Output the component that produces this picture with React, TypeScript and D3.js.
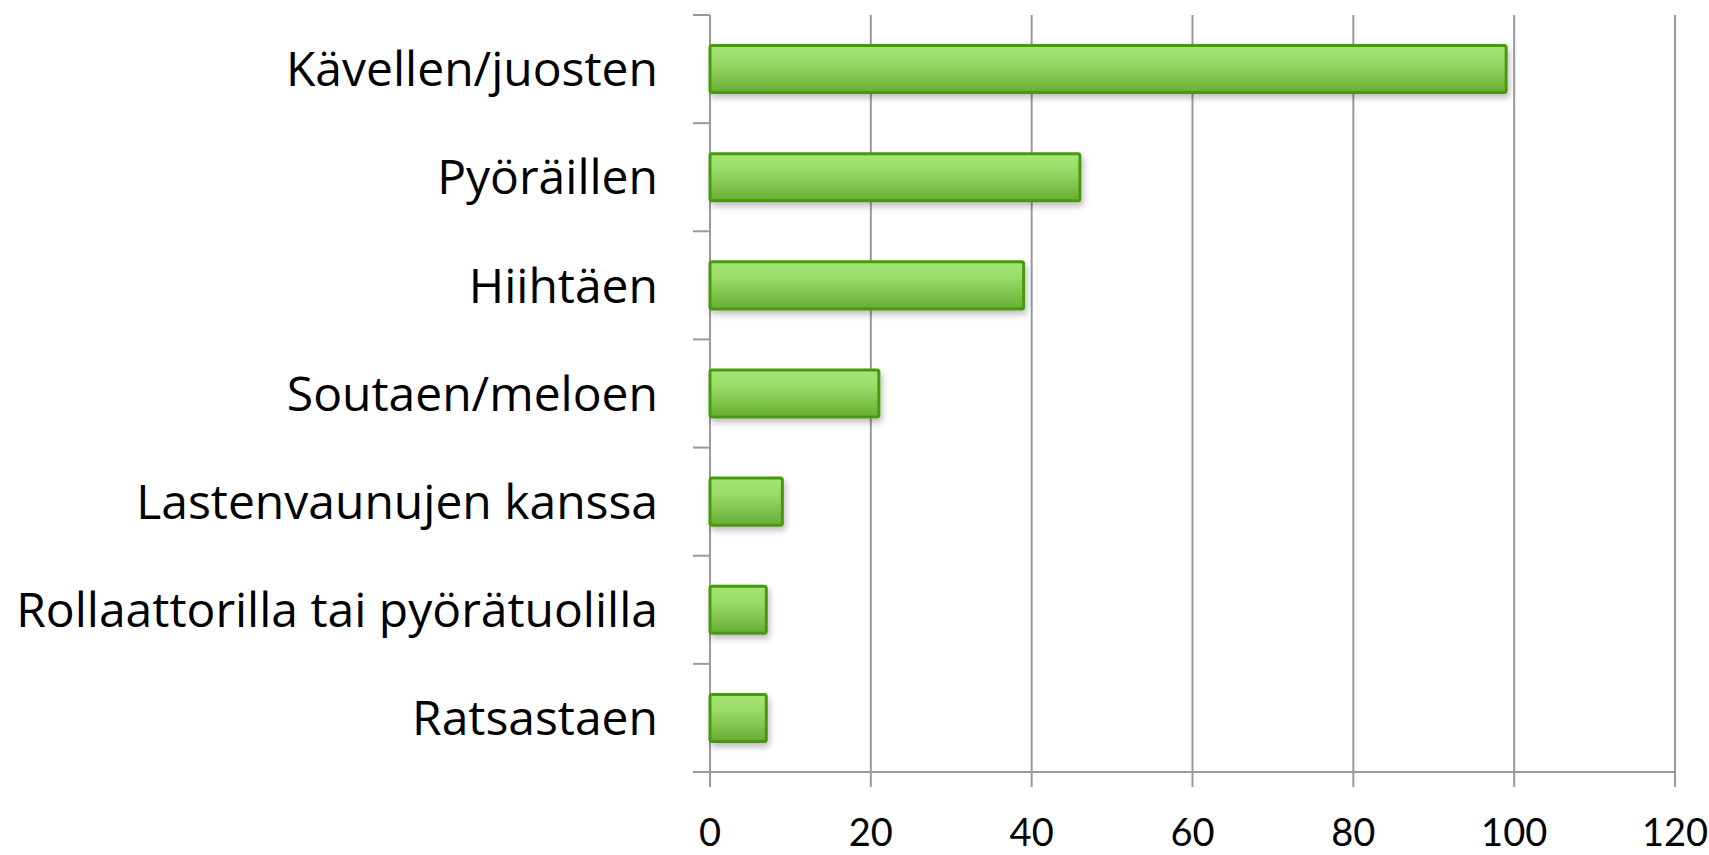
import React, { useEffect, useRef } from 'react';
import * as d3 from 'd3';

const categories = [
  'Kävellen/juosten',
  'Pyöräillen',
  'Hiihtäen',
  'Soutaen/meloen',
  'Lastenvaunujen kanssa',
  'Rollaattorilla tai pyörätuolilla',
  'Ratsastaen',
];
const values = [99, 46, 39, 21, 9, 7, 7];
const xTicks = [0, 20, 40, 60, 80, 100, 120];

const App = () => {
  const svgRef = useRef<SVGSVGElement>(null);

  useEffect(() => {
    const width = 1709;
    const height = 855;
    const margin = { top: 15, right: 34, bottom: 83, left: 710 };
    const innerWidth = width - margin.left - margin.right;
    const innerHeight = height - margin.top - margin.bottom;

    const svg = d3.select(svgRef.current);
    svg.selectAll('*').remove();

    // gradient + shadow for the bars
    const defs = svg.append('defs');
    const grad = defs.append('linearGradient')
      .attr('id', 'barGrad')
      .attr('x1', 0).attr('y1', 0).attr('x2', 0).attr('y2', 1);
    grad.append('stop').attr('offset', '0%').attr('stop-color', '#a4e676');
    grad.append('stop').attr('offset', '35%').attr('stop-color', '#98dc68');
    grad.append('stop').attr('offset', '100%').attr('stop-color', '#68ad34');
    const shadow = defs.append('filter').attr('id', 'shadow')
      .attr('x', '-10%').attr('y', '-20%').attr('width', '130%').attr('height', '160%');
    shadow.append('feDropShadow')
      .attr('dx', 2).attr('dy', 4).attr('stdDeviation', 3)
      .attr('flood-color', '#000').attr('flood-opacity', 0.25);

    const g = svg.append('g')
      .attr('transform', `translate(${margin.left},${margin.top})`);

    const x = d3.scaleLinear().domain([0, 120]).range([0, innerWidth]);
    const y = d3.scaleBand().domain(categories).range([0, innerHeight]).paddingInner(0.565).paddingOuter(0.2825);
    const yBand = d3.scaleBand().domain(categories).range([0, innerHeight]);

    const grey = '#9a9a9a';

    // vertical gridlines (also bottom ticks)
    g.selectAll('.grid')
      .data(xTicks)
      .enter()
      .append('line')
      .attr('x1', d => x(d)).attr('x2', d => x(d))
      .attr('y1', 0).attr('y2', innerHeight + 15)
      .attr('stroke', grey).attr('stroke-width', 2);

    // bottom axis line
    g.append('line')
      .attr('x1', -17).attr('x2', innerWidth)
      .attr('y1', innerHeight).attr('y2', innerHeight)
      .attr('stroke', grey).attr('stroke-width', 2);

    // left ticks at band boundaries
    const bounds = categories.map(c => yBand(c) as number);
    g.selectAll('.ytick')
      .data(bounds)
      .enter()
      .append('line')
      .attr('x1', -17).attr('x2', 0)
      .attr('y1', d => d).attr('y2', d => d)
      .attr('stroke', grey).attr('stroke-width', 2);

    // bars
    g.selectAll('.bar')
      .data(values)
      .enter()
      .append('rect')
      .attr('x', 0)
      .attr('y', (_, i) => y(categories[i]) as number)
      .attr('width', d => x(d))
      .attr('height', y.bandwidth())
      .attr('rx', 2)
      .attr('fill', 'url(#barGrad)')
      .attr('stroke', '#4a9910')
      .attr('stroke-width', 3)
      .attr('filter', 'url(#shadow)');

    // category labels
    g.selectAll('.label')
      .data(categories)
      .enter()
      .append('text')
      .attr('x', -52)
      .attr('y', d => (yBand(d) as number) + yBand.bandwidth() / 2)
      .attr('dy', '0.36em')
      .attr('text-anchor', 'end')
      .style('font-family', '"Open Sans", sans-serif')
      .style('font-size', '48px')
      .attr('fill', '#000')
      .text(d => d);

    // x tick labels
    g.selectAll('.xlabel')
      .data(xTicks)
      .enter()
      .append('text')
      .attr('x', d => x(d))
      .attr('y', innerHeight + 74)
      .attr('text-anchor', 'middle')
      .style('font-family', 'Lato, sans-serif')
      .style('font-size', '38px')
      .attr('fill', '#000')
      .text(d => d);
  }, []);

  return (
    <svg
      ref={svgRef}
      width={1709}
      height={855}
      style={{ position: 'absolute', left: 0, top: 0, background: '#fff' }}
    />
  );
};

export default App;
